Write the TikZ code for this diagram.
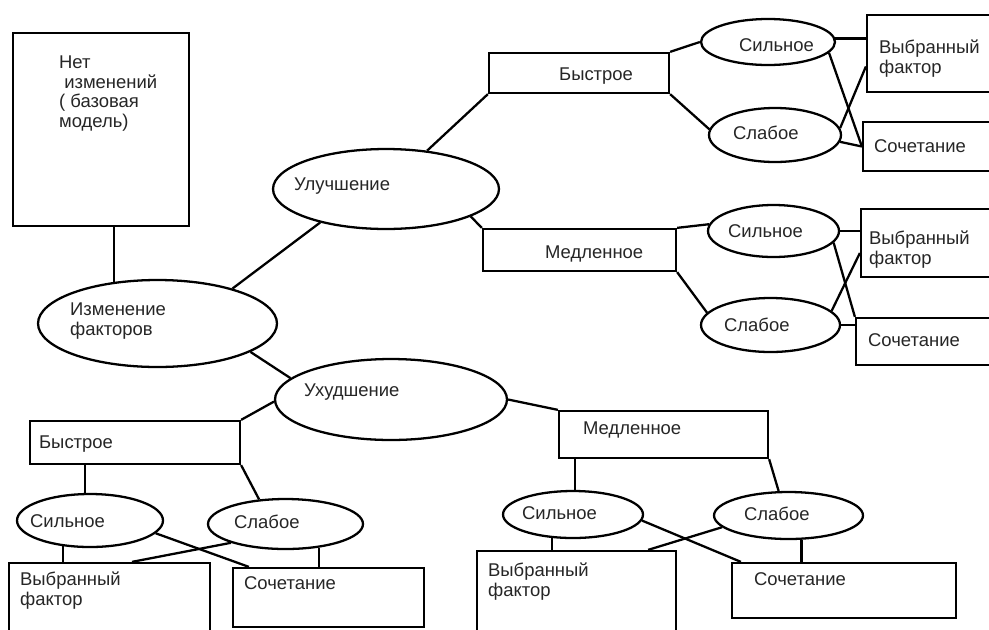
\documentclass[tikz,border=0pt]{standalone}
\usepackage{fontspec}
\setmainfont{Liberation Sans}
\usetikzlibrary{shapes.geometric,calc}

\begin{document}
\begin{tikzpicture}[
   x=0.02cm, y=-0.02cm, line width=1.3pt,
   font=\fontsize{10.5}{11.1}\selectfont,
   wh/.style 2 args={minimum width=#1cm, minimum height=#2cm},
   box/.style={draw, rectangle, inner sep=0pt},
   oval/.style={draw, ellipse, inner sep=0pt},
   txt/.style={anchor=north west, inner sep=0pt, align=left, text=black!85}]
  \clip (0,0) rectangle (989,629);
  \fill[white] (0,0) rectangle (989,629);
  % main tree
  \node[box, wh={3.52}{3.86}]  (base)  at (101,129.5) {};
  \node[oval, wh={4.78}{1.74}] (chg)   at (157.5,323.5) {};
  \node[oval, wh={4.52}{1.60}] (imp)   at (386,189) {};
  \node[oval, wh={4.64}{1.62}] (det)   at (391,399.5) {};
  \node[box, wh={3.60}{0.80}]  (fastU) at (579,73) {};
  \node[box, wh={3.86}{0.84}]  (slowU) at (579.5,250) {};
  \node[box, wh={4.20}{0.86}]  (fastD) at (135,442.5) {};
  \node[box, wh={4.18}{0.94}]  (slowD) at (663.5,434.5) {};
  % improvement, fast
  \node[oval, wh={2.68}{0.92}] (strUA)  at (768,42) {};
  \node[oval, wh={2.64}{1.08}] (weakUA) at (775,135) {};
  \node[box, wh={2.56}{1.54}]  (selUA)  at (931,53.5) {};
  \node[box, wh={2.64}{0.98}]  (combUA) at (929,146.5) {};
  % improvement, slow
  \node[oval, wh={2.62}{1.04}] (strUB)  at (773.5,231) {};
  \node[oval, wh={2.78}{1.08}] (weakUB) at (770.5,325) {};
  \node[box, wh={2.68}{1.36}]  (selUB)  at (928,243) {};
  \node[box, wh={2.78}{0.94}]  (combUB) at (925.5,341.5) {};
  % deterioration, fast
  \node[oval, wh={2.92}{1.06}] (strDA)  at (90,520.5) {};
  \node[oval, wh={3.10}{1.00}] (weakDA) at (285.5,524) {};
  \node[box, wh={4.02}{1.44}]  (selDA)  at (109.5,599) {};
  \node[box, wh={3.82}{1.18}]  (combDA) at (328.5,597.5) {};
  % deterioration, slow
  \node[oval, wh={2.80}{0.94}] (strDB)  at (573,514.5) {};
  \node[oval, wh={2.98}{0.94}] (weakDB) at (788.5,515.5) {};
  \node[box, wh={3.98}{1.68}]  (selDB)  at (576.5,593) {};
  \node[box, wh={4.48}{1.10}]  (combDB) at (844,590.5) {};

  \node[txt] (baseT)  at (58,55)   {Нет\\~изменений\\( базовая\\модель)};
  \node[txt] (chgT)   at (69,302)  {Изменение\\факторов};
  \node[txt] (impT)   at (293,177) {Улучшение};
  \node[txt] (detT)   at (303,383) {Ухудшение};
  \node[txt] (fastUT) at (558,67)  {Быстрое};
  \node[txt] (slowUT) at (544,245) {Медленное};
  \node[txt] (fastDT) at (38,435)  {Быстрое};
  \node[txt] (slowDT) at (582,421) {Медленное};
  \node[txt] (strUAT)  at (738,37)  {Сильное};
  \node[txt] (weakUAT) at (732,125) {Слабое};
  \node[txt] (selUAT)  at (878,39)  {Выбранный\\фактор};
  \node[txt] (combUAT) at (873,138) {Сочетание};
  \node[txt] (strUBT)  at (727,223) {Сильное};
  \node[txt] (weakUBT) at (723,317) {Слабое};
  \node[txt] (selUBT)  at (868,230) {Выбранный\\фактор};
  \node[txt] (combUBT) at (867,332) {Сочетание};
  \node[txt] (strDAT)  at (29,513)  {Сильное};
  \node[txt] (weakDAT) at (233,514) {Слабое};
  \node[txt] (selDAT)  at (19,571)  {Выбранный\\фактор};
  \node[txt] (combDAT) at (243,575) {Сочетание};
  \node[txt] (strDBT)  at (521,505) {Сильное};
  \node[txt] (weakDBT) at (743,506) {Слабое};
  \node[txt] (selDBT)  at (487,562) {Выбранный\\фактор};
  \node[txt] (combDBT) at (753,571) {Сочетание};

  \draw (chg.136 |- base.south) -- (chg.136);
  \draw (chg.25.5) -- (imp.207);
  \draw (chg.343) -- (det.168);
  \draw (imp.43.6) -- (fastU.south west);
  \draw (imp.342) -- (slowU.north west);
  \draw (det.181) -- (fastD.north east);
  \draw (det.east) -- (slowD.north west);

  \draw (fastU.north east) -- (strUA.west);
  \draw (fastU.south east) -- (weakUA.175.6);
  \draw (strUA.3.4) -- (strUA.3.4 -| selUA.west);
  \draw (strUA.350) -- (combUA.west);
  \draw (weakUA.6.3) -- ($(selUA.west)+(0,13)$);
  \draw (weakUA.354) -- (combUA.west);

  \draw (slowU.north east) -- (strUB.174.8);
  \draw (slowU.south east) -- (weakUB.169.5);
  \draw (strUB.east) -- (strUB.east -| selUB.west);
  \draw (strUB.349.5) -- (combUB.north west);
  \draw (weakUB.13.7) -- ($(selUB.west)+(0,10)$);
  \draw (weakUB.east) -- (weakUB.east -| combUB.west);

  \draw (strDA.100 |- fastD.south) -- (strDA.100);
  \draw (fastD.south east) -- (weakDA.137.8);
  \draw (strDA.224) -- (strDA.224 |- selDA.north);
  \draw (strDA.349.6) -- ($(combDA.north west)+(17,0)$);
  \draw (weakDA.199.6) -- ($(selDA.north)+(22.5,0)$);
  \draw (weakDA.325) -- (weakDA.325 |- combDA.north);

  \draw (strDB.85 |- slowD.south) -- (strDB.85);
  \draw (slowD.south east) -- (weakDB.112);
  \draw (strDB.228.4) -- (strDB.228.4 |- selDB.north);
  \draw (strDB.355.5) -- ($(combDB.north west)+(10,0)$);
  \draw (weakDB.190.3) -- ($(selDB.north east)+(-29,0)$);
  \draw (weakDB.298.3) -- (weakDB.298.3 |- combDB.north);
\end{tikzpicture}
\end{document}
